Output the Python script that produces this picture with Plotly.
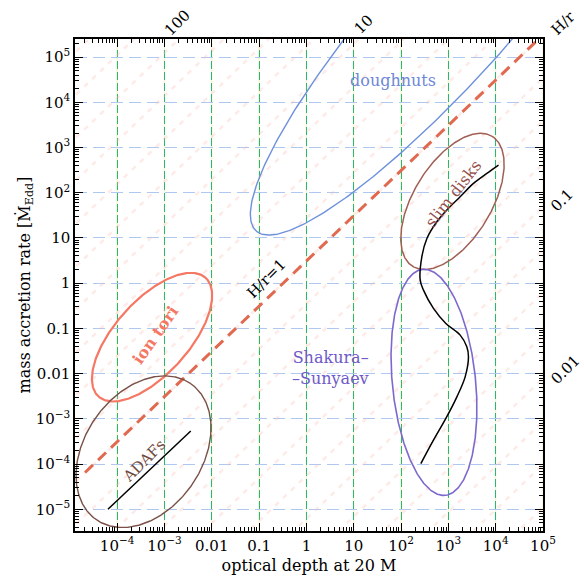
import numpy as np
import plotly.graph_objects as go

# ---------------- data ----------------
X_RANGE = [-4.89, 5.0]     # log10 optical depth
Y_RANGE = [-5.48, 5.40]    # log10 accretion rate

x_tickvals = [1e-4, 1e-3, 1e-2, 1e-1, 1, 10, 1e2, 1e3, 1e4, 1e5]
x_ticktext = ["10<sup>−4</sup>", "10<sup>−3</sup>", "0.01", "0.1", "1", "10",
              "10<sup>2</sup>", "10<sup>3</sup>", "10<sup>4</sup>", "10<sup>5</sup>"]
y_tickvals = [1e-5, 1e-4, 1e-3, 1e-2, 1e-1, 1, 10, 1e2, 1e3, 1e4, 1e5]
y_ticktext = ["10<sup>−5</sup>", "10<sup>−4</sup>", "10<sup>−3</sup>", "0.01", "0.1", "1", "10",
              "10<sup>2</sup>", "10<sup>3</sup>", "10<sup>4</sup>", "10<sup>5</sup>"]

# ellipses (centre in log10 units, semi-axes in x-decades, tilt in degrees)
ell_names = ["doughnuts", "ion tori", "ADAFs", "slim disks", "Shakura-Sunyaev"]
ell_cx = [3.140, -3.262, -3.442, 3.087, 2.696]
ell_cy = [6.123, -1.193, -3.726, 1.809, -2.193]
ell_a = [6.34, 1.69, 1.75, 1.61, 2.40]
ell_b = [1.37, 0.78, 1.24, 0.82, 0.88]
ell_tilt = [48.5, 48.0, 55.2, 58.6, 95.7]
ell_colors = ["rgb(110,145,220)", "rgb(245,120,100)", "rgb(120,80,70)",
              "rgb(160,95,85)", "rgb(125,105,205)"]
ell_widths = [1.4, 2.2, 1.4, 1.5, 1.6]

# ADAF solution branch
adaf_tau = [6.4e-5, 3.6e-3]
adaf_mdot = [1.0e-5, 5.4e-4]

# Shakura-Sunyaev / slim disk S-curve
scurve_tau = [262, 484, 885, 1514, 2265, 2661, 2455, 1778, 885, 484, 298, 254,
              275, 352, 571, 929, 1774, 3396, 6516, 11482]
scurve_mdot = [1.02e-4, 3.37e-4, 1.02e-3, 3.07e-3, 8.49e-3, 0.0235, 0.0392, 0.0710,
               0.129, 0.277, 0.703, 1.17, 3.84, 9.77, 22.8, 41.4, 81.5, 161, 269, 410]

# H/r = 1 line:  mdot = HR1_FACTOR * tau
HR1_FACTOR = 3.1
hr1_tau = [2.1e-5, 1.0e5]
# faint constant-H/r lines: offsets (decades in mdot) relative to H/r = 1
hr_faint_offsets = [-10.45, -9.5, -8.55, -7.6, -6.65, -5.7, -4.75, -3.8, -2.85, -1.9, -0.95, 0.0,
                    0.95, 1.9, 2.85, 3.8, 4.75, 5.7, 6.65, 7.6, 8.55, 9.5]

# labels of constant H/r lines outside the frame (log10 tau, log10 mdot)
hr_label_text = ["100", "10", "H/r", "0.1", "0.01"]
hr_label_lx = [-2.733, 1.199, 5.427, 5.406, 5.47]
hr_label_ly = [5.76, 5.72, 5.76, 1.838, -1.923]

# ---------------- figure ----------------
W, H = 584, 581
ML, MR, MT, MB = 75, 41, 39, 50
plot_w = W - ML - MR
plot_h = H - MT - MB
ky = (plot_w / (X_RANGE[1] - X_RANGE[0])) / (plot_h / (Y_RANGE[1] - Y_RANGE[0]))

FONT = "DejaVu Serif"
fig = go.Figure()

# faint H/r lines
for off in hr_faint_offsets:
    tx = [10 ** -5.2, 10 ** 5.3]
    fig.add_trace(go.Scatter(x=tx, y=[HR1_FACTOR * t * 10 ** off for t in tx], mode="lines",
                             line=dict(color="rgba(248,190,180,0.30)", width=2.5, dash="5px,6px"),
                             hoverinfo="skip", showlegend=False))

# H/r = 1
fig.add_trace(go.Scatter(x=hr1_tau, y=[HR1_FACTOR * t for t in hr1_tau], mode="lines",
                         line=dict(color="rgb(225,105,80)", width=3, dash="11px,7px"),
                         showlegend=False))

# ellipses
t = np.linspace(0, 2 * np.pi, 400)
for cx, cy, a, b, tl, col, lw in zip(ell_cx, ell_cy, ell_a, ell_b, ell_tilt, ell_colors, ell_widths):
    ph = np.radians(tl)
    dx = a * np.cos(t) * np.cos(ph) - b * np.sin(t) * np.sin(ph)
    dy = (a * np.cos(t) * np.sin(ph) + b * np.sin(t) * np.cos(ph)) * ky
    fig.add_trace(go.Scatter(x=10 ** (cx + dx), y=10 ** (cy + dy), mode="lines",
                             line=dict(color=col, width=lw), showlegend=False))

# black solution curves
fig.add_trace(go.Scatter(x=adaf_tau, y=adaf_mdot, mode="lines",
                         line=dict(color="black", width=1.5), showlegend=False))
fig.add_trace(go.Scatter(x=scurve_tau, y=scurve_mdot, mode="lines", line_shape="spline",
                         line=dict(color="black", width=1.5), showlegend=False))

# invisible trace to carry the mirrored (top/right) axes
fig.add_trace(go.Scatter(x=[1, 10], y=[1, 10], xaxis="x2", yaxis="y2", mode="markers",
                         marker=dict(opacity=0), hoverinfo="skip", showlegend=False))

# yellow under-lines for the vertical grid
for v in x_tickvals:
    fig.add_shape(type="line", xref="x", yref="paper", x0=v, x1=v, y0=0, y1=1,
                  line=dict(color="rgba(230,225,120,0.4)", width=1.2), layer="below")

def ann(lx, ly, text, color, size, angle=0, **kw):
    fig.add_annotation(x=lx, y=ly, xref="x", yref="y", text=text,
                       showarrow=False, textangle=angle, xanchor="center", yanchor="middle",
                       font=dict(family=FONT, size=size, color=color), **kw)

ann(1.84, 4.49, "doughnuts", "rgb(110,135,215)", 16)
ann(3.108, 1.986, "slim disks", "rgb(150,80,75)", 16, -52)
ann(-3.199, -1.149, "<b>ion tori</b>", "rgb(245,120,100)", 16, -55)
ann(-3.431, -3.936, "ADAFs", "rgb(110,75,65)", 15, -45)
ann(-0.852, 0.090, "H/r=1", "black", 15, -45)
ann(0.501, -1.879, "Shakura–<br>–Sunyaev", "rgb(110,90,200)", 16, 0, align="right")

# H/r labels outside the frame (paper coordinates from the log ranges)
for txt, lx, ly in zip(hr_label_text, hr_label_lx, hr_label_ly):
    fig.add_annotation(x=(lx - X_RANGE[0]) / (X_RANGE[1] - X_RANGE[0]),
                       y=(ly - Y_RANGE[0]) / (Y_RANGE[1] - Y_RANGE[0]),
                       xref="paper", yref="paper", text=txt, showarrow=False, textangle=-45,
                       xanchor="center", yanchor="middle",
                       font=dict(family=FONT, size=15, color="black"))

x_minor = [m * 10 ** k for k in range(-6, 6) for m in range(2, 10)]
y_minor = [m * 10 ** k for k in range(-6, 6) for m in range(2, 10)]

axis_common = dict(type="log", showline=True, linecolor="black", linewidth=1.5,
                   ticks="inside", ticklen=8, tickwidth=1, tickcolor="black",
                   tickfont=dict(family=FONT, size=15, color="black"), zeroline=False,
                   automargin=False)

fig.update_layout(
    xaxis=dict(range=X_RANGE, tickmode="array", tickvals=x_tickvals, ticktext=x_ticktext,
               showgrid=True, gridcolor="rgb(40,185,110)", griddash="8px,3px", gridwidth=1.2,
               minor=dict(tickmode="array", tickvals=x_minor, ticks="inside", ticklen=4,
                          tickcolor="black", showgrid=False),
               title=dict(text="optical depth at 20 M", font=dict(family=FONT, size=16, color="black"),
                          standoff=6),
               **axis_common),
    yaxis=dict(range=Y_RANGE, tickmode="array", tickvals=y_tickvals, ticktext=y_ticktext,
               showgrid=True, gridcolor="rgb(175,200,240)", griddash="12px,6px", gridwidth=1.2,
               minor=dict(tickmode="array", tickvals=y_minor, ticks="inside", ticklen=4,
                          tickcolor="black", showgrid=False),
               title=dict(text="mass accretion rate [Ṁ<sub>Edd</sub>]",
                          font=dict(family=FONT, size=16, color="black"), standoff=1),
               **axis_common),
    xaxis2=dict(range=X_RANGE, overlaying="x", side="top", showticklabels=False, showgrid=False,
                tickmode="array", tickvals=x_tickvals,
                minor=dict(tickmode="array", tickvals=x_minor, ticks="inside", ticklen=4,
                           tickcolor="black", showgrid=False),
                **axis_common),
    yaxis2=dict(range=Y_RANGE, overlaying="y", side="right", showticklabels=False, showgrid=False,
                tickmode="array", tickvals=y_tickvals,
                minor=dict(tickmode="array", tickvals=y_minor, ticks="inside", ticklen=4,
                           tickcolor="black", showgrid=False),
                **axis_common),
    width=W, height=H, margin=dict(l=ML, r=MR, t=MT, b=MB),
    plot_bgcolor="white", paper_bgcolor="white", showlegend=False,
    font=dict(family=FONT, color="black"))

# remove the default 8px page margin so the 584x581 figure fills the window exactly
fig.write_html("out.html", config={"displayModeBar": False},
               post_script="document.body.style.margin='0px';document.body.style.overflow='hidden';")
